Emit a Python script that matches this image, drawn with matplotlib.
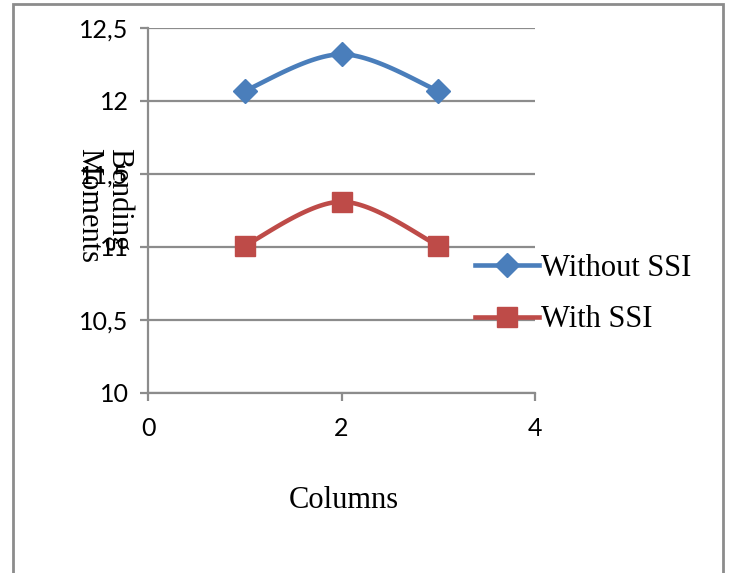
import numpy as np
from matplotlib import pyplot as plt
from matplotlib.patches import Rectangle
from matplotlib.ticker import FuncFormatter

columns = [1, 2, 3]
without_ssi = [12.07, 12.32, 12.07]
with_ssi = [11.01, 11.31, 11.01]

x_ticks = [0, 2, 4]
y_ticks = [10, 10.5, 11, 11.5, 12, 12.5]

BLUE = "#4a7ebb"
RED = "#be4b48"
GRID = "#8c8c8c"


def smooth(xs, ys, n=40):
    # bezier smoothing between points, tangent from neighbours (like office charts)
    p = np.column_stack((xs, ys)).astype(float)
    pad = np.vstack((p[0], p, p[-1]))
    out = []
    t = np.linspace(0, 1, n)[:, None]
    for i in range(len(p) - 1):
        p0, p3 = pad[i + 1], pad[i + 2]
        c1 = p0 + (pad[i + 2] - pad[i]) / 6
        c2 = p3 - (pad[i + 3] - pad[i + 1]) / 6
        seg = ((1 - t) ** 3) * p0 + 3 * ((1 - t) ** 2) * t * c1 + 3 * (1 - t) * t ** 2 * c2 + t ** 3 * p3
        out.append(seg if i == 0 else seg[1:])
    out = np.vstack(out)
    return out[:, 0], out[:, 1]


fig = plt.figure(figsize=(7.29, 5.73), dpi=100)
ax = fig.add_axes([148 / 729, 1 - 393 / 573, (535 - 148) / 729, (393 - 28) / 573])

for ys, col, mk, ms, lab in [(without_ssi, BLUE, "D", 12, "Without SSI"),
                             (with_ssi, RED, "s", 14, "With SSI")]:
    sx, sy = smooth(columns, ys)
    ax.plot(sx, sy, color=col, lw=3.3, solid_capstyle="round", zorder=3)
    ax.plot(columns, ys, ls="none", marker=mk, ms=ms, color=col, zorder=4)
    ax.plot([], [], color=col, lw=3.3, marker=mk, ms=ms, label=lab)

ax.set_xlim(0, 4)
ax.set_ylim(10, 12.5)
ax.set_xticks(x_ticks)
ax.set_yticks(y_ticks)
ax.yaxis.set_major_formatter(FuncFormatter(lambda v, p: f"{v:g}".replace(".", ",")))
ax.grid(axis="y", color=GRID, lw=1.6)
ax.set_axisbelow(True)
for s in ["top", "right"]:
    ax.spines[s].set_visible(False)
for s in ["left", "bottom"]:
    ax.spines[s].set_color(GRID)
    ax.spines[s].set_linewidth(1.6)
ax.tick_params(colors=GRID, length=6, width=1.6, labelcolor="black", labelsize=18)
for lbl in ax.get_xticklabels() + ax.get_yticklabels():
    lbl.set_fontfamily("Lato")
ax.tick_params(axis="x", pad=11)
ax.tick_params(axis="y", pad=8)

fig.text(344 / 729, 1 - 500 / 573, "Columns", family="Liberation Serif", fontsize=22,
         ha="center", va="center")
fig.text(104 / 729, 1 - 148 / 573, "Bending\nMoments", family="Liberation Serif", fontsize=22,
         ha="center", va="top", rotation=270, multialignment="left", linespacing=1.05)

ax.legend(loc="center left", bbox_to_anchor=(475 / 729, 1 - 294 / 573),
          bbox_transform=fig.transFigure, frameon=False, borderpad=0, borderaxespad=0,
          handlelength=2.1, handletextpad=0.05, labelspacing=0.75,
          prop={"family": "Liberation Serif", "size": 22})

fig.patches.append(Rectangle((13 / 729, -0.05), (723 - 13) / 729, 1.05 - 4 / 573,
                             transform=fig.transFigure, fill=False, edgecolor=GRID, lw=2))

fig.savefig("out.png", dpi=100)
